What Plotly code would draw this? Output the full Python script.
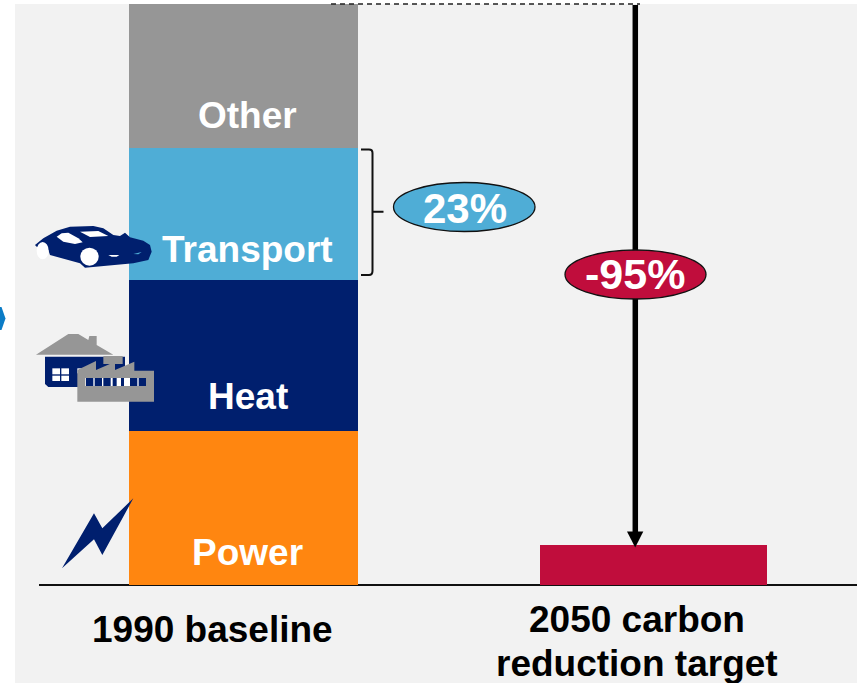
import plotly.graph_objects as go

W, H = 857, 683

# ---- data (% of 1990 emissions) ----
categories = ["1990 baseline", "2050 carbon reduction target"]
power = [26.5, None]
heat = [26.0, None]
transport = [22.7, None]
other = [24.8, None]
target = [None, 6.9]

segment_names = ["Power", "Heat", "Transport", "Other"]
transport_share_label = "23%"
reduction_label = "-95%"

NAVY = "#001f6e"
ORANGE = "#ff8610"
BLUE = "#4fadd6"
GREY = "#969696"
CRIMSON = "#c00d3c"
BG = "#f2f2f2"
FONT = "Liberation Sans"


def fx(px):
    return px / W


def fy(py):
    return 1 - py / H


def poly(points, ox=0.0, oy=0.0, s=1.0):
    d = []
    for i, (x, y) in enumerate(points):
        d.append(f"{'M' if i == 0 else 'L'}{fx(ox + x * s):.5f},{fy(oy + y * s):.5f}")
    return " ".join(d) + " Z"


def path_shape(points, color, ox=0.0, oy=0.0, s=1.0):
    return dict(type="path", xref="paper", yref="paper", path=poly(points, ox, oy, s),
                fillcolor=color, line=dict(width=0), layer="above")


def rect_pts(x0, y0, x1, y1):
    return [(x0, y0), (x1, y0), (x1, y1), (x0, y1)]


def ell(x0, y0, x1, y1, fill, lw=0, lc="black", layer="above"):
    return dict(type="circle", xref="paper", yref="paper", x0=fx(x0), x1=fx(x1),
                y0=fy(y1), y1=fy(y0), fillcolor=fill, line=dict(width=lw, color=lc), layer=layer)


fig = go.Figure()
for name, vals, col, bw in [("Power", power, ORANGE, 229 / 410), ("Heat", heat, NAVY, 229 / 410),
                            ("Transport", transport, BLUE, 229 / 410), ("Other", other, GREY, 229 / 410),
                            ("2050 target", target, CRIMSON, 227 / 410)]:
    fig.add_bar(x=categories, y=vals, name=name, marker=dict(color=col, line=dict(width=0)), width=bw)

shapes = []
# panel background
shapes.append(dict(type="rect", xref="paper", yref="paper", x0=fx(15), x1=1, y0=0, y1=fy(4),
                   fillcolor=BG, line=dict(width=0), layer="below"))
# chevron at the left edge
shapes.append(path_shape([(0, 307), (1.5, 307), (5.5, 318.5), (1.5, 330), (0, 330)], "#0b7cc6"))
# dashed line and brace
shapes.append(dict(type="line", xref="paper", yref="paper", x0=fx(331), x1=fx(640), y0=fy(4), y1=fy(4),
                   line=dict(color="#222222", width=1.5, dash="5px,4px")))
brace = (f"M{fx(361):.5f},{fy(149.5):.5f} L{fx(369):.5f},{fy(149.5):.5f} "
         f"Q{fx(372.5):.5f},{fy(149.5):.5f} {fx(372.5):.5f},{fy(153):.5f} "
         f"L{fx(372.5):.5f},{fy(271):.5f} Q{fx(372.5):.5f},{fy(275):.5f} {fx(369):.5f},{fy(275):.5f} "
         f"L{fx(361):.5f},{fy(275):.5f} M{fx(372.5):.5f},{fy(211.7):.5f} L{fx(383.5):.5f},{fy(211.7):.5f}")
shapes.append(dict(type="path", xref="paper", yref="paper", path=brace, line=dict(color="#111111", width=2)))
# arrow from the baseline total to the target (below the ellipse)
shapes.append(dict(type="line", xref="paper", yref="paper", x0=fx(635.3), x1=fx(635.3), y0=fy(5), y1=fy(534),
                   line=dict(color="black", width=5.5), layer="above"))
shapes.append(path_shape([(627, 531.5), (643.3, 531.5), (635.2, 547.5)], "black"))
# ellipses
shapes.append(ell(393.5, 182.5, 535, 231.5, BLUE, 1.3, "#111111"))
shapes.append(ell(565, 250, 706, 299, CRIMSON, 1.3, "#111111"))

# ---- icons; outline points taken in 3x-crop pixels, scaled down ----
s3 = 1 / 3
OX, OY = 0, 200
car = [(105, 135), (130, 115), (170, 92), (210, 80), (280, 78), (310, 85), (340, 105), (360, 108), (375, 98),
       (390, 112), (430, 122), (450, 135), (455, 155), (445, 180), (400, 190), (255, 203), (240, 190),
       (150, 165), (145, 150), (110, 140)]
shapes.append(path_shape(car, NAVY, OX, OY, s3))
shapes.append(ell(110 / 3, 200 + 126 / 3, 146 / 3, 200 + 178 / 3, "white"))
shapes.append(ell(241 / 3, 200 + 143 / 3, 296 / 3, 200 + 197 / 3, "white"))
shapes.append(path_shape([(170, 110), (185, 100), (205, 98), (235, 115), (248, 127), (225, 132), (190, 125)], "white", OX, OY, s3))
shapes.append(path_shape([(240, 95), (295, 93), (325, 108), (270, 111)], "white", OX, OY, s3))
shapes.append(path_shape([(325, 165), (358, 165), (350, 170), (335, 170)], "white", OX, OY, s3))
shapes.append(path_shape([(400, 162), (425, 156), (415, 163)], "#4fadd6", OX, OY, s3))
# house
shapes.append(path_shape([(108, 464), (205, 402), (235, 402), (265, 420), (268, 408), (290, 408), (290, 435), (340, 464)], GREY, OX, OY, s3))
shapes.append(path_shape([(135, 470), (375, 470), (375, 561), (145, 561), (135, 552)], NAVY, OX, OY, s3))
for r in [(157, 505, 180, 523), (184, 505, 207, 523), (157, 527, 180, 543), (184, 527, 207, 543), (232, 505, 246, 520)]:
    shapes.append(path_shape(rect_pts(*r), "white", OX, OY, s3))
# factory
shapes.append(path_shape(rect_pts(310, 468, 368, 492), GREY, OX, OY, s3))
shapes.append(path_shape([(232, 605), (232, 510), (288, 483), (288, 510), (345, 485), (345, 510), (403, 485), (403, 512), (462, 512), (462, 605)], GREY, OX, OY, s3))
shapes.append(path_shape(rect_pts(256, 534, 438, 558), "white", OX, OY, s3))
for x0, x1 in [(258, 280), (284, 306), (310, 332), (338, 350), (363, 372), (390, 412), (416, 438)]:
    shapes.append(path_shape(rect_pts(x0, 534, x1, 558), NAVY, OX, OY, s3))
# lightning bolt
bolt = [(400, 55), (307, 225), (282, 178), (186, 265), (282, 100), (307, 145)]
shapes.append(path_shape(bolt, NAVY, 0, 480, s3))


def txt(text, x, y, size, color, **kw):
    return dict(text=f"<b>{text}</b>", xref="paper", yref="paper", x=fx(x), y=fy(y), showarrow=False,
                xanchor="center", yanchor="middle", font=dict(family=FONT, size=size, color=color), **kw)


annotations = [
    txt(segment_names[3], 248, 115.5, 37, "white"),
    txt(segment_names[2], 248, 249.5, 37, "white"),
    txt(segment_names[1], 248, 396.5, 37, "white"),
    txt(segment_names[0], 247.5, 552.5, 37, "white"),
    txt(transport_share_label, 465, 208.5, 42, "white"),
    txt(reduction_label, 635, 274, 43, "white"),
    txt("1990 baseline", 212.5, 629.5, 37, "black"),
    txt("2050 carbon", 637, 619, 37, "black"),
    txt("reduction target", 637, 663, 37, "black"),
]

fig.update_layout(
    width=W, height=H, margin=dict(l=0, r=0, t=0, b=0), autosize=False,
    paper_bgcolor="white", plot_bgcolor="rgba(0,0,0,0)", showlegend=False,
    barmode="stack", shapes=shapes, annotations=annotations,
    xaxis=dict(domain=[38.5 / W, 1], type="category", range=[-0.5, (857 - 243.5) / 410],
               showgrid=False, zeroline=False, showline=False, showticklabels=False, ticks="", categoryorder="array", categoryarray=categories),
    yaxis=dict(domain=[0, 1], range=[-98 / 5.81, 585 / 5.81], showgrid=False, zeroline=True,
               zerolinecolor="#111111", zerolinewidth=1.5, showticklabels=False, ticks=""),
)
fig.write_html("out.html", config=dict(displayModeBar=False),
               post_script="document.body.style.margin='0';document.body.style.overflow='hidden';")
